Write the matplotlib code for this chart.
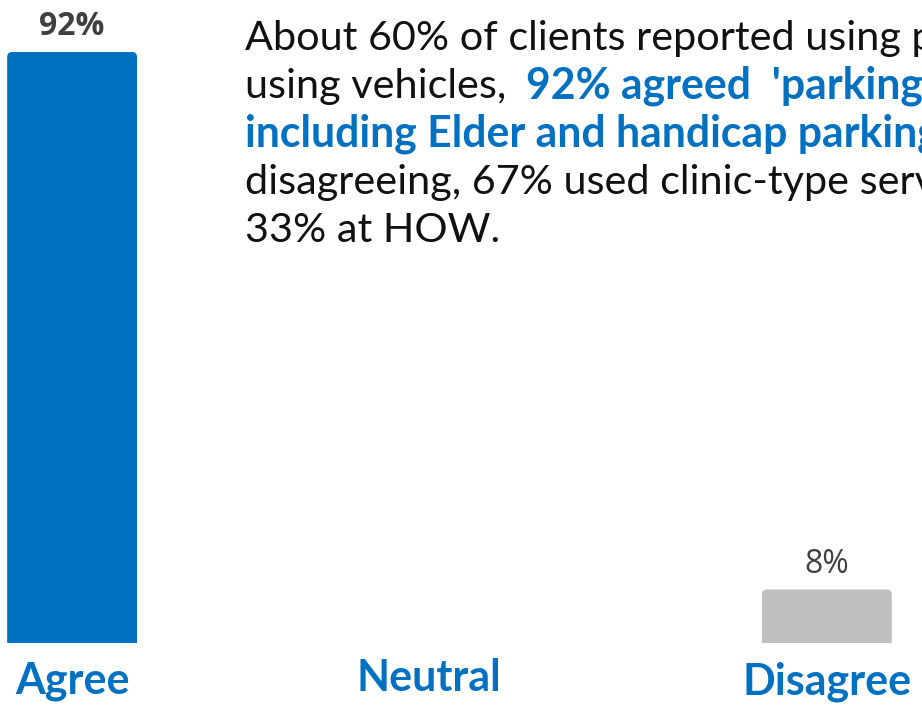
import matplotlib.pyplot as plt
from matplotlib.patches import FancyBboxPatch
from matplotlib.transforms import ScaledTranslation

# 数据
categories = ["Agree", "Neutral", "Disagree"]
values = [91.7, 0, 8.3]
value_labels = ["92%", "", "8%"]
bar_colors = ["#0070C0", "#BFBFBF", "#BFBFBF"]

body_lines = [
    "About 60% of clients reported using parking. Of those",
    None,
    None,
    "disagreeing, 67% used clinic-type services and",
    "33% at HOW.",
]
line2_plain = "using vehicles, "
line2_bold = "92% agreed  'parking is adequate'"
line3_bold = "including Elder and handicap parking'. Of those"

BLUE = "#0070C0"

fig = plt.figure(figsize=(9.22, 7.08), dpi=100)
ax = fig.add_axes([0, 1 - 643 / 708, 1, 643 / 708])

x = range(len(categories))
bars = ax.bar(x, values, width=0.344, color=bar_colors)

ax.set_xlim(-0.191, 2.252)
ax.set_ylim(0, 99.77)

# 圆角柱子
for b in bars:
    b.set_visible(False)
    if b.get_height() <= 0:
        continue
    p = FancyBboxPatch((b.get_x(), -2), b.get_width(), b.get_height() + 2,
                       boxstyle="round,pad=0,rounding_size=0.013", mutation_aspect=60,
                       facecolor=b.get_facecolor(), edgecolor="none")
    ax.add_patch(p)

for s in ax.spines.values():
    s.set_visible(False)
ax.set_yticks([])
ax.set_xticks(list(x))
ax.set_xticklabels(categories, fontsize=31, fontweight="bold", color=BLUE, family="Lato")
ax.tick_params(axis="x", length=0, pad=13)
lbl = ax.get_xticklabels()[1]
lbl.set_transform(lbl.get_transform() + ScaledTranslation(-0.21, 0.03, fig.dpi_scale_trans))

# 数值标签
for b, t in zip(bars, value_labels):
    if not t:
        continue
    w = "bold" if b.get_height() > 50 else "normal"
    ax.annotate(t, (b.get_x() + b.get_width() / 2, b.get_height()), xytext=(0, 12),
                textcoords="offset points", ha="center", va="baseline",
                fontsize=23, fontweight=w, color="#404040", family="Open Sans")

# 文字说明
fs = 29.8
fsb = 30.8
x0 = 245 / 922
base = [50, 98, 146, 194, 242]
kw = dict(fontsize=fs, family="Lato", va="baseline", ha="left")
for ln, yb in zip(body_lines, base):
    if ln:
        fig.text(x0, 1 - yb / 708, ln, color="#111111", **kw)

t2 = fig.text(x0, 1 - base[1] / 708, line2_plain, color="#111111", **kw)
fig.canvas.draw()
r = fig.canvas.get_renderer()
w2 = t2.get_window_extent(r).width + 9  # 逗号后留宽一点
fig.text(x0 + w2 / 922, 1 - base[1] / 708, line2_bold, color=BLUE,
         fontsize=fsb, family="Lato", fontweight="bold", va="baseline", ha="left")
fig.text(x0, 1 - base[2] / 708, line3_bold, color=BLUE,
         fontsize=fsb, family="Lato", fontweight="bold", va="baseline", ha="left")

fig.savefig("out.png", dpi=100)
